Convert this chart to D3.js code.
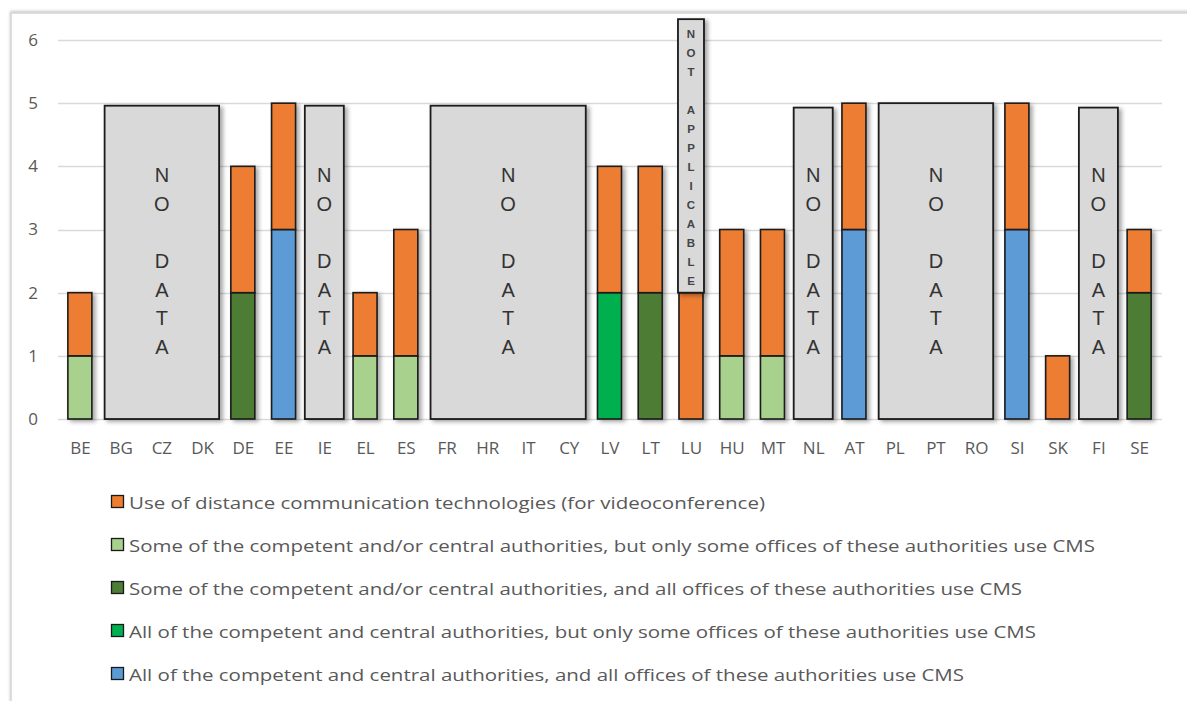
<!DOCTYPE html>
<html>
<head>
<meta charset="utf-8">
<script src="https://cdn.jsdelivr.net/npm/d3@7"></script>
<style>
  html, body { margin: 0; padding: 0; background: #fff; }
  svg { display: block; }
</style>
</head>
<body>
<svg id="chart" width="1187" height="701"></svg>
<script>
// ---------- DATA ----------
const categories = ["BE","BG","CZ","DK","DE","EE","IE","EL","ES","FR","HR","IT","CY","LV","LT","LU","HU","MT","NL","AT","PL","PT","RO","SI","SK","FI","SE"];
// series values per category
const blueAll      = [0,0,0,0,0,3,0,0,0,0,0,0,0,0,0,0,0,0,0,3,0,0,0,3,0,0,0];
const brightGreen  = [0,0,0,0,0,0,0,0,0,0,0,0,0,2,0,0,0,0,0,0,0,0,0,0,0,0,0];
const darkGreen    = [0,0,0,0,2,0,0,0,0,0,0,0,0,0,2,0,0,0,0,0,0,0,0,0,0,0,2];
const lightGreen   = [1,0,0,0,0,0,0,1,1,0,0,0,0,0,0,0,1,1,0,0,0,0,0,0,0,0,0];
const videoConf    = [1,0,0,0,2,2,0,1,2,0,0,0,0,2,2,2,2,2,0,2,0,0,0,2,1,0,1];
const seriesNames = [
  "Use of distance communication technologies (for videoconference)",
  "Some of the competent and/or central authorities, but only some offices of these authorities use CMS",
  "Some of the competent and/or central authorities, and all offices of these authorities use CMS",
  "All of the competent and central authorities, but only some offices of these authorities use CMS",
  "All of the competent and central authorities, and all offices of these authorities use CMS"
];
// "NO DATA" groups
const noDataFrom = ["BG","IE","FR","NL","PL","FI"];
const noDataTo   = ["DK","IE","CY","NL","RO","FI"];
const noDataTop  = [4.96, 4.96, 4.96, 4.93, 5.0, 4.93];
// "NOT APPLICABLE" marker
const notApplicableCat = "LU";
const notApplicableFrom = 2;
const notApplicableTo = 6.33;
const yTicks = [0,1,2,3,4,5,6];

// ---------- SETUP ----------
const svg = d3.select("#chart");
const colors = {
  video: "#ED7D31", light: "#A9D18E", dark: "#4E7D36", bright: "#00B050", blue: "#5B9BD5"
};
const textColor = "#595959";

const defs = svg.append("defs");
const f = defs.append("filter").attr("id","shadow").attr("x","-30%").attr("y","-10%").attr("width","160%").attr("height","130%");
f.append("feDropShadow").attr("dx",3).attr("dy",2).attr("stdDeviation",2.2).attr("flood-color","#000").attr("flood-opacity",0.35);
const f2 = defs.append("filter").attr("id","frameShadow").attr("x","-5%").attr("y","-5%").attr("width","110%").attr("height","110%");
f2.append("feDropShadow").attr("dx",0).attr("dy",-1).attr("stdDeviation",1.5).attr("flood-color","#000").attr("flood-opacity",0.25);

// outer frame
svg.append("rect").attr("x",11).attr("y",13).attr("width",1200).attr("height",720)
  .attr("fill","#fff").attr("stroke","#d4d4d4").attr("stroke-width",1.5).attr("filter","url(#frameShadow)");

const x = d3.scalePoint().domain(categories).range([59.5, 1159.5]).padding(0.5);
const y = d3.scaleLinear().domain([0,6]).range([419, 40]);
const barW = 24;

// gridlines
svg.append("g").selectAll("line").data(yTicks).join("line")
  .attr("x1",58).attr("x2",1162)
  .attr("y1",d=>Math.round(y(d))+0.5).attr("y2",d=>Math.round(y(d))+0.5)
  .attr("stroke","#d9d9d9").attr("stroke-width",1.5);

// y tick labels
const yAxis = d3.axisLeft(y).tickValues(yTicks).tickFormat(d3.format("d")).tickSize(0).tickPadding(0);
const yg = svg.append("g").attr("transform","translate(39,0)").call(yAxis);
yg.select(".domain").remove();
yg.selectAll("text").attr("fill",textColor).style("font-family","'Open Sans', sans-serif").style("font-size","17px").attr("text-anchor","middle").attr("x",-6);

// x tick labels
const xAxis = d3.axisBottom(x).tickSize(0).tickPadding(0);
const xg = svg.append("g").attr("transform","translate(0,441)").call(xAxis);
xg.select(".domain").remove();
xg.selectAll("text").attr("fill",textColor).style("font-family","'Open Sans', sans-serif").style("font-size","17px").attr("dy","0.75em");

// stacked bars
const keys = ["blue","bright","dark","light","video"];
const seriesArr = {blue: blueAll, bright: brightGreen, dark: darkGreen, light: lightGreen, video: videoConf};
const rows = categories.map((c,i)=>{
  const r = {cat:c};
  keys.forEach(k=> r[k] = seriesArr[k][i]);
  return r;
});
const stack = d3.stack().keys(keys)(rows);
const barsG = svg.append("g");
categories.forEach((c,i)=>{
  const total = keys.reduce((s,k)=>s+seriesArr[k][i],0);
  if (!total) return;
  const g = barsG.append("g").attr("filter","url(#shadow)");
  stack.forEach(layer=>{
    const d = layer[i];
    if (d[1]-d[0] <= 0) return;
    g.append("rect")
      .attr("x", x(c)-barW/2).attr("width", barW)
      .attr("y", y(d[1])).attr("height", y(d[0])-y(d[1]))
      .attr("fill", colors[layer.key])
      .attr("stroke","#1a1a1a").attr("stroke-width",1.6);
  });
});

// NO DATA boxes
const ndG = svg.append("g");
const noDataLetters = ["N","O","","D","A","T","A"];
noDataFrom.forEach((from,i)=>{
  const to = noDataTo[i];
  const single = from === to;
  const x0 = single ? x(from) - 19.5 : x(from) - 16;
  const x1 = single ? x(to) + 19.5 : x(to) + 17;
  const top = y(noDataTop[i]);
  ndG.append("rect").attr("x",x0).attr("y",top).attr("width",x1-x0).attr("height",y(0)-top)
    .attr("fill","#D9D9D9").attr("stroke","#1a1a1a").attr("stroke-width",1.8).attr("filter","url(#shadow)");
  const cx = (x0+x1)/2;
  noDataLetters.forEach((ch,j)=>{
    if (!ch) return;
    ndG.append("text").attr("x",cx).attr("y",y(5) + 72 + j*28.6)
      .attr("text-anchor","middle").attr("dominant-baseline","central")
      .style("font-family","'Liberation Sans', Arial, sans-serif").style("font-size","20px")
      .attr("fill","#333").text(ch);
  });
});

// NOT APPLICABLE box
const naX = x(notApplicableCat);
const naW = 26;
svg.append("rect").attr("x",naX-naW/2).attr("y",y(notApplicableTo)).attr("width",naW)
  .attr("height",y(notApplicableFrom)-y(notApplicableTo))
  .attr("fill","#D9D9D9").attr("stroke","#1a1a1a").attr("stroke-width",1.8).attr("filter","url(#shadow)");
const naLetters = "NOT APPLICABLE".split("");
naLetters.forEach((ch,j)=>{
  if (ch === " ") return;
  svg.append("text").attr("x",naX).attr("y",y(notApplicableTo)+15+j*19)
    .attr("text-anchor","middle").attr("dominant-baseline","central")
    .style("font-family","'Liberation Sans', Arial, sans-serif").style("font-size","11.5px")
    .style("font-weight","bold")
    .attr("fill","#444").text(ch);
});

// legend
const legendColors = [colors.video, colors.light, colors.dark, colors.bright, colors.blue];
const legendEnds = [765, 1095, 1022, 1036, 964];
const lg = svg.append("g");
seriesNames.forEach((name,i)=>{
  const cy = 502 + i*43;
  lg.append("rect").attr("x",111.5).attr("y",cy-6.5).attr("width",12).attr("height",12)
    .attr("fill",legendColors[i]).attr("stroke","#1a1a1a").attr("stroke-width",1.3);
  lg.append("text").attr("x",129).attr("y",cy).attr("dominant-baseline","central")
    .style("font-family","'Open Sans', sans-serif").style("font-size","17px")
    .attr("fill",textColor)
    .attr("textLength", legendEnds[i]-129).attr("lengthAdjust","spacingAndGlyphs")
    .text(name);
});
</script>
</body>
</html>
